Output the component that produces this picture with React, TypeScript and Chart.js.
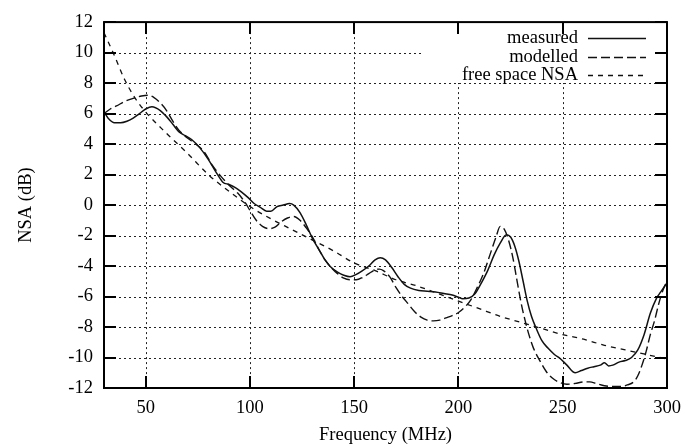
import React, { useEffect, useRef } from 'react';
import { Chart, registerables } from 'chart.js';

Chart.register(...registerables);

const measuredFreq = [30, 32, 35, 38, 41, 44, 47, 50, 53, 57, 60, 63, 66, 69, 72, 76, 80, 84, 87, 90, 93, 96, 99, 102, 105, 108, 110, 113, 116, 119, 121, 124, 127, 130, 133, 136, 139, 142, 145, 148, 151, 154, 157, 160, 162.5, 165, 168, 171, 174, 177, 181, 185, 189, 193, 197, 200, 202, 205, 208, 211, 214, 217, 220, 223, 225, 227, 229, 231, 233, 235, 237, 240, 243, 246, 249, 252, 256, 259, 262, 265, 268, 270, 272, 274, 277, 280, 283, 286, 289, 292, 295, 297, 300];
const measuredNSA = [6.1, 5.7, 5.4, 5.4, 5.5, 5.7, 6.0, 6.3, 6.45, 6.2, 5.8, 5.3, 4.8, 4.55, 4.3, 3.75, 3.0, 2.1, 1.5, 1.35, 1.15, 0.85, 0.5, 0.1, -0.15, -0.4, -0.4, -0.1, 0.0, 0.1, 0.0, -0.5, -1.3, -2.2, -2.9, -3.6, -4.1, -4.4, -4.6, -4.7, -4.55, -4.3, -4.0, -3.6, -3.45, -3.6, -4.1, -4.7, -5.2, -5.45, -5.6, -5.65, -5.7, -5.8, -5.9, -6.05, -6.15, -6.1, -5.8, -5.1, -4.3, -3.3, -2.5, -1.95, -2.1, -2.7, -3.7, -5.0, -6.3, -7.3, -8.0, -8.9, -9.4, -9.8, -10.1, -10.5, -11.0, -10.85, -10.7, -10.6, -10.5, -10.35, -10.55, -10.5, -10.3, -10.2, -10.0, -9.5, -8.5, -7.1, -6.1, -5.7, -5.1];

const modelledFreq = [30, 33, 36, 40, 44, 48, 51, 54, 57, 60, 63, 66, 70, 74, 78, 82, 86, 90, 94, 97, 100, 103, 106, 109, 112, 115, 118, 121, 124, 127, 130, 133, 136, 139, 142, 145, 148, 151, 154, 157, 160, 162, 164, 167, 170, 173, 176, 179, 182, 185, 188, 191, 194, 197, 200, 203, 206, 209, 212, 215, 218, 220, 222, 224, 226, 228, 230, 232, 234, 236, 239, 242, 245, 248, 252, 256, 260, 263, 266, 270, 274, 278, 281, 284, 286, 288, 290, 292, 294, 296, 298, 300];
const modelledNSA = [6.0, 6.3, 6.5, 6.8, 7.0, 7.15, 7.2, 7.05, 6.7, 6.2, 5.5, 4.9, 4.4, 4.0, 3.5, 2.6, 1.9, 1.3, 0.8, 0.3, -0.35, -1.0, -1.4, -1.55, -1.45, -1.1, -0.85, -0.75, -1.0, -1.5, -2.1, -2.9, -3.6, -4.1, -4.5, -4.8, -4.9, -4.9, -4.75, -4.5, -4.25, -4.2, -4.3, -4.7, -5.4, -6.0, -6.5, -7.0, -7.35, -7.55, -7.6, -7.55, -7.4, -7.25, -7.05, -6.7, -6.2, -5.4, -4.5, -3.3, -2.1, -1.4, -1.6, -2.3, -3.4, -4.9, -6.4, -7.6, -8.6, -9.4, -10.2, -10.9, -11.35, -11.6, -11.75, -11.7, -11.6, -11.6, -11.7, -11.85, -11.9, -11.9, -11.8, -11.6, -11.2, -10.5, -9.6, -8.5, -7.6, -6.5, -5.6, -5.0];

const freeFreq = [30, 35, 40, 45, 50, 60, 70, 80, 90, 100, 110, 120, 130, 140, 150, 160, 170, 180, 190, 200, 210, 220, 230, 240, 250, 260, 270, 280, 290, 300];
const freeNSA = [11.3, 9.8, 8.2, 7.0, 6.1, 4.7, 3.4, 2.0, 0.9, -0.1, -0.9, -1.6, -2.3, -3.0, -3.8, -4.3, -4.9, -5.3, -5.8, -6.3, -6.8, -7.3, -7.7, -8.1, -8.5, -8.8, -9.2, -9.5, -9.8, -10.1];

const xTickValues = [50, 100, 150, 200, 250, 300];
const xGridValues = [50, 100, 150, 200, 250];
const yGridValues = [-10, -8, -6, -4, -2, 0, 2, 4, 6, 8, 10];
const yTickValues = [-12, -10, -8, -6, -4, -2, 0, 2, 4, 6, 8, 10, 12];

const seriesLabels = ['measured', 'modelled', 'free space NSA'];
const seriesDashes: number[][] = [[], [9, 4], [5, 5]];

const FONT = '"Liberation Serif", "Times New Roman", serif';
const FSIZE = 18.5;

const toPoints = (xs: number[], ys: number[]) => xs.map((x, i) => ({ x, y: ys[i] }));

const framePlugin = {
  id: 'gnuplotFrame',
  beforeDatasetsDraw(chart: any) {
    const { ctx, chartArea: a, scales } = chart;
    const xs = scales.x;
    const ys = scales.y;
    ctx.save();
    ctx.strokeStyle = '#222';
    ctx.lineWidth = 1;
    ctx.setLineDash([2, 3]);
    xGridValues.forEach((v) => {
      const px = Math.round(xs.getPixelForValue(v)) + 0.5;
      ctx.beginPath();
      ctx.moveTo(px, a.top);
      ctx.lineTo(px, a.bottom);
      ctx.stroke();
    });
    yGridValues.forEach((v) => {
      const py = Math.round(ys.getPixelForValue(v)) + 0.5;
      ctx.beginPath();
      ctx.moveTo(a.left, py);
      ctx.lineTo(a.right, py);
      ctx.stroke();
    });
    ctx.setLineDash([]);
    ctx.fillStyle = '#fff';
    ctx.fillRect(422, a.top, a.right - 422, 83 - a.top);
    ctx.restore();
  },
  afterDatasetsDraw(chart: any) {
    const { ctx, chartArea: a, scales } = chart;
    const xs = scales.x;
    const ys = scales.y;
    ctx.save();
    ctx.strokeStyle = '#000';
    ctx.lineWidth = 2;
    ctx.setLineDash([]);
    ctx.strokeRect(a.left, a.top, a.right - a.left, a.bottom - a.top);
    const tl = 12;
    yTickValues.forEach((v) => {
      const py = Math.round(ys.getPixelForValue(v));
      ctx.beginPath();
      ctx.moveTo(a.left, py);
      ctx.lineTo(a.left + tl, py);
      ctx.moveTo(a.right, py);
      ctx.lineTo(a.right - tl, py);
      ctx.stroke();
    });
    xTickValues.forEach((v) => {
      const px = Math.round(xs.getPixelForValue(v));
      ctx.beginPath();
      ctx.moveTo(px, a.bottom);
      ctx.lineTo(px, a.bottom - tl);
      ctx.moveTo(px, a.top);
      ctx.lineTo(px, a.top + tl);
      ctx.stroke();
    });
    ctx.font = `${FSIZE}px ${FONT}`;
    ctx.fillStyle = '#000';
    ctx.textAlign = 'right';
    ctx.textBaseline = 'middle';
    const rows = [38, 57, 75];
    seriesLabels.forEach((label, i) => {
      ctx.fillText(label, 578, rows[i]);
      ctx.beginPath();
      ctx.lineWidth = 1.4;
      ctx.strokeStyle = '#111';
      ctx.setLineDash(seriesDashes[i]);
      ctx.moveTo(588, rows[i] + 0.5);
      ctx.lineTo(646, rows[i] + 0.5);
      ctx.stroke();
    });
    ctx.restore();
  },
};

export default function App() {
  const ref = useRef<HTMLCanvasElement | null>(null);
  useEffect(() => {
    document.body.style.margin = '0';
    const canvas = ref.current;
    if (!canvas) return;
    const chart = new Chart(canvas, {
      type: 'line',
      data: {
        datasets: [
          {
            label: seriesLabels[0],
            data: toPoints(measuredFreq, measuredNSA),
            borderColor: '#111',
            borderWidth: 1.5,
            borderDash: seriesDashes[0],
            pointRadius: 0,
            cubicInterpolationMode: 'monotone',
            fill: false,
          },
          {
            label: seriesLabels[1],
            data: toPoints(modelledFreq, modelledNSA),
            borderColor: '#111',
            borderWidth: 1.4,
            borderDash: seriesDashes[1],
            pointRadius: 0,
            cubicInterpolationMode: 'monotone',
            fill: false,
          },
          {
            label: seriesLabels[2],
            data: toPoints(freeFreq, freeNSA),
            borderColor: '#111',
            borderWidth: 1.3,
            borderDash: seriesDashes[2],
            pointRadius: 0,
            cubicInterpolationMode: 'monotone',
            fill: false,
          },
        ],
      },
      options: {
        responsive: false,
        animation: false,
        devicePixelRatio: 1,
        layout: { padding: { left: 0, right: 24, top: 15, bottom: 0 } },
        plugins: { legend: { display: false }, tooltip: { enabled: false } },
        scales: {
          x: {
            type: 'linear',
            min: 30,
            max: 300,
            afterBuildTicks: (axis: any) => {
              axis.ticks = xTickValues.map((v) => ({ value: v }));
            },
            afterFit: (axis: any) => {
              axis.height = 60;
            },
            grid: { display: false, drawTicks: false },
            border: { display: false },
            ticks: {
              padding: 9,
              maxRotation: 0,
              autoSkip: false,
              color: '#000',
              font: { family: FONT, size: FSIZE },
              callback: (v: any) => String(v),
            },
            title: {
              display: true,
              text: 'Frequency (MHz)',
              color: '#000',
              font: { family: FONT, size: FSIZE },
              padding: { top: 0, bottom: 1.5 },
            },
          },
          y: {
            type: 'linear',
            min: -12,
            max: 12,
            afterBuildTicks: (axis: any) => {
              axis.ticks = yTickValues.map((v) => ({ value: v }));
            },
            afterFit: (axis: any) => {
              axis.width = 104;
            },
            grid: { display: false, drawTicks: false },
            border: { display: false },
            ticks: {
              padding: 11,
              autoSkip: false,
              color: '#000',
              font: { family: FONT, size: FSIZE },
              callback: (v: any) => String(v),
            },
            title: {
              display: true,
              text: 'NSA (dB)',
              color: '#000',
              font: { family: FONT, size: FSIZE },
              padding: { top: 15, bottom: 0 },
            },
          },
        },
      },
      plugins: [framePlugin],
    } as any);
    return () => chart.destroy();
  }, []);
  return (
    <div style={{ position: 'absolute', left: 0, top: 0, width: 691, height: 448, background: '#fff' }}>
      <canvas ref={ref} width={691} height={448} style={{ display: 'block' }} />
    </div>
  );
}
